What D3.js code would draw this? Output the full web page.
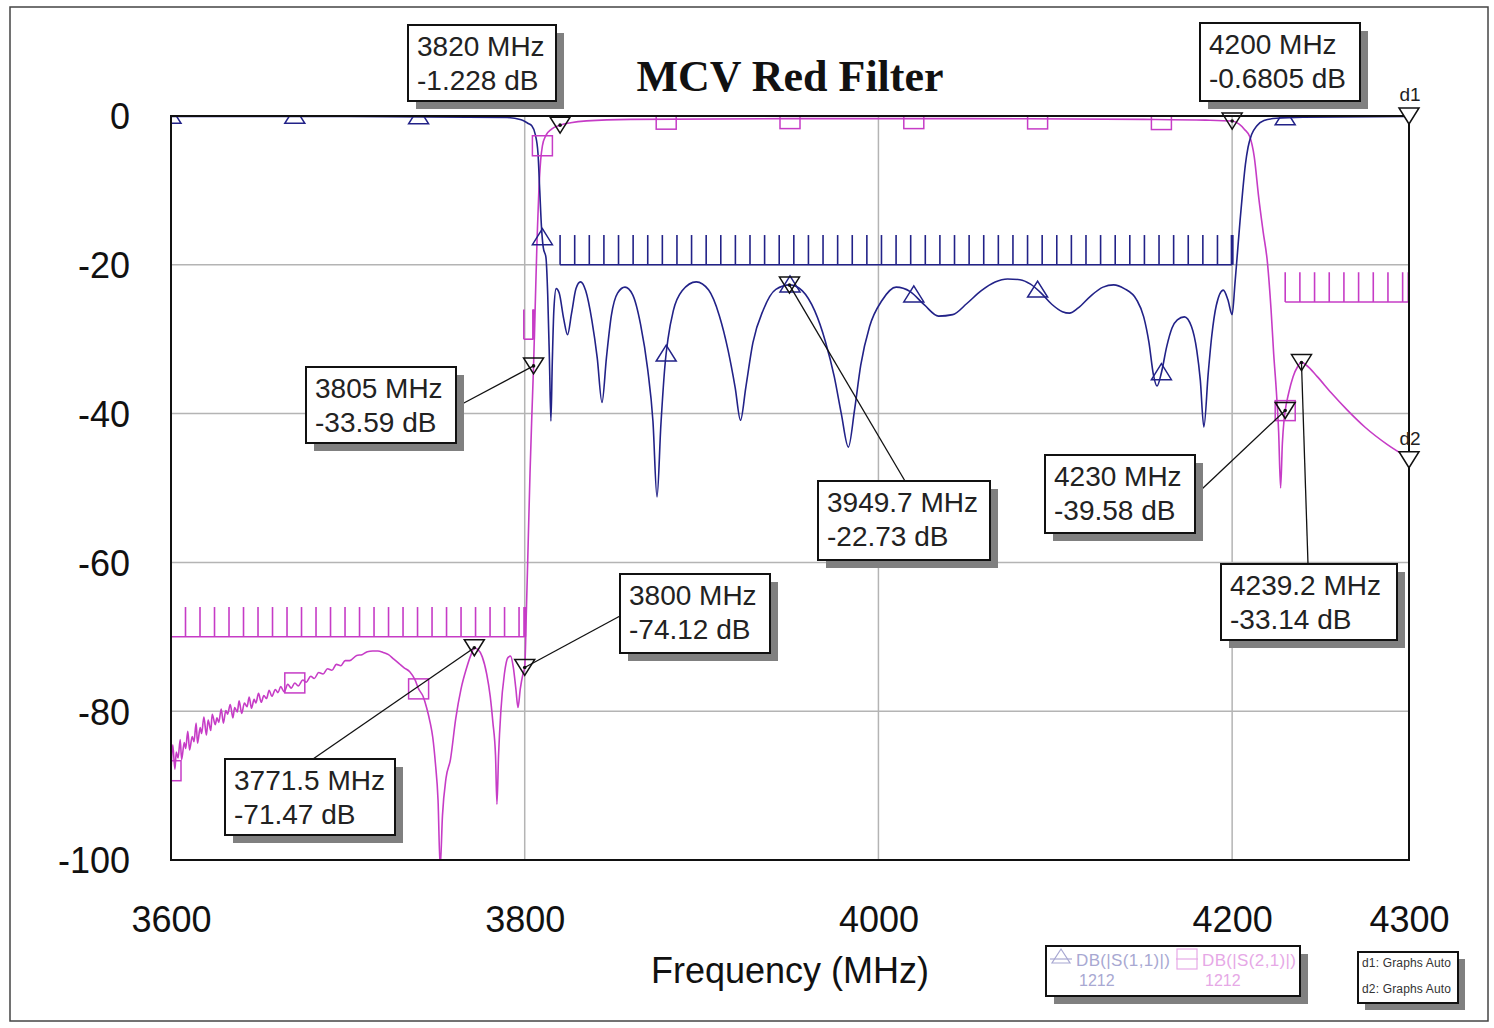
<!DOCTYPE html>
<html><head><meta charset="utf-8">
<script src="https://cdn.jsdelivr.net/npm/d3@7"></script>
<style>body{margin:0;background:#fff;} svg{display:block;}</style>
</head><body>
<svg id="c" width="1494" height="1028"></svg>
<script>
// ---------- DATA ----------
const chartTitle = "MCV Red Filter";
const xTicks = [3600, 3800, 4000, 4200, 4300];
const xGrid = [3800, 4000, 4200];
const yTicks = [0, -20, -40, -60, -80, -100];
const yGrid = [-20, -40, -60, -80];

// DB(|S(1,1)|)  [MHz, dB]
const s11 = [[3600,-0.05],[3700,-0.05],[3790,-0.2],[3798,-0.5],[3802,-1.0],[3804,-1.3],[3806,-2.5],[3807.5,-5],[3808.5,-10],[3809.5,-15],[3810.5,-17.7],[3812,-19],[3813,-24],[3814,-33],[3814.8,-41],[3815.6,-33],[3816.5,-26],[3817.8,-23.2],[3819.5,-23.8],[3822,-27.2],[3824.2,-29.4],[3826.5,-26.5],[3829,-23.2],[3831.5,-22.3],[3834.5,-23.5],[3838,-27.5],[3841,-32.5],[3843.7,-38.5],[3846.2,-32.5],[3849,-26.8],[3852.5,-23.8],[3856.7,-23],[3861,-24],[3865.5,-28],[3869.5,-34],[3872.5,-41],[3874.8,-51.2],[3877,-41.5],[3879.5,-33],[3881,-30],[3884,-26.2],[3889,-23.5],[3897,-22.3],[3904,-23.4],[3910,-26.8],[3915,-31.5],[3919,-36.5],[3922,-40.9],[3925,-36.5],[3929,-30.5],[3935,-26],[3942,-23.3],[3950,-22.7],[3957,-23.5],[3964,-26.2],[3970,-30.3],[3975,-35],[3979,-40],[3983,-44.5],[3986.5,-39.5],[3990,-33.5],[3995,-28.3],[4002,-24.8],[4010,-23],[4018,-23.6],[4026,-25.4],[4034,-26.9],[4042,-26.7],[4050,-25.2],[4058,-23.5],[4066,-22.3],[4073,-21.9],[4080,-22],[4086,-22.6],[4092,-23.8],[4098,-25.3],[4104,-26.3],[4108,-26.5],[4113,-25.8],[4120,-24.2],[4127,-23],[4133,-22.7],[4139,-23.2],[4146,-24.7],[4150,-27],[4153,-30.5],[4155.5,-34.8],[4157.5,-36.3],[4160,-34.5],[4163,-31],[4166,-28.5],[4169,-27.4],[4173,-27],[4177,-28.3],[4180,-31.5],[4182,-35.5],[4184,-41.8],[4186.5,-34.5],[4188.5,-29.5],[4191,-25.5],[4195,-23.4],[4197.6,-24.7],[4200,-26.7],[4201.6,-22.5],[4203,-18.4],[4204.5,-14],[4206,-10],[4207.5,-6.5],[4209,-4.2],[4211,-2.5],[4214,-1.3],[4218,-0.6],[4225,-0.3],[4240,-0.15],[4300,-0.05]];

// DB(|S(2,1)|)  [MHz, dB]
const s21 = [[3600,-88],[3601,-84.5],[3602.2,-87.8],[3603,-85.5],[3604,-86.3],[3605.2,-83.8],[3606,-86.5],[3607.5,-84.2],[3608.3,-85],[3609.5,-82.7],[3610.5,-85.2],[3612,-83.4],[3613,-84.1],[3614.2,-81.6],[3615,-84.3],[3616.5,-82.2],[3617.3,-83],[3618.6,-80.8],[3620,-83.2],[3621,-81.2],[3622.5,-82.6],[3623.3,-80.4],[3625,-81.8],[3626,-80.9],[3627,-81.5],[3628.4,-79.7],[3629.6,-81.6],[3631,-79.9],[3632,-80.4],[3633.5,-79.1],[3635,-80.9],[3636,-79.5],[3637.5,-80.1],[3638.5,-78.6],[3640,-80.3],[3641.5,-78.9],[3643,-79.4],[3644.2,-78.1],[3645.5,-79.6],[3647,-78.4],[3648,-78.9],[3649.5,-77.6],[3651,-78.8],[3652.5,-77.9],[3654,-78.3],[3655.5,-77.2],[3657,-78],[3659,-77.1],[3660.5,-77.5],[3662,-76.7],[3664,-77.4],[3666,-76.4],[3668,-76.9],[3670,-76.2],[3672,-76.6],[3674.5,-75.8],[3676.5,-76.1],[3679,-75.3],[3681,-75.6],[3683.5,-74.8],[3686,-75],[3688.5,-74.3],[3691,-74.5],[3693.5,-73.7],[3696,-73.9],[3698.5,-73.2],[3701,-73.2],[3705,-72.5],[3708,-72.4],[3711,-72],[3714,-71.9],[3717,-71.9],[3720,-72.1],[3723,-72.4],[3726,-73],[3729,-73.6],[3732,-74.2],[3735,-74.7],[3738,-75.8],[3740,-77],[3742.5,-78],[3744.5,-79.5],[3746.5,-81.5],[3748,-83.5],[3749.5,-87],[3751,-92],[3752.2,-101],[3753.5,-94],[3755.5,-89],[3758,-86.5],[3761,-81],[3764,-77],[3767,-74.3],[3769.5,-72.5],[3771.5,-71.5],[3773.5,-71.7],[3776,-72.7],[3778.5,-75],[3780.5,-78],[3782,-81.5],[3783.5,-86],[3784.3,-92.5],[3785.2,-86],[3786.5,-80],[3788.5,-75],[3790.5,-72.8],[3792,-72.6],[3793.5,-74],[3795,-77],[3796.2,-79.5],[3797.5,-77],[3799,-75],[3800,-74.1],[3801,-66],[3802,-57],[3803,-48],[3804,-40.5],[3805,-33.6],[3806,-25],[3807,-16.5],[3808,-10],[3809,-6],[3810,-4],[3812,-2.6],[3815,-1.8],[3820,-1.23],[3826,-0.9],[3835,-0.65],[3860,-0.45],[3950,-0.35],[4050,-0.35],[4150,-0.45],[4185,-0.55],[4200,-0.68],[4204,-1.1],[4207,-1.8],[4210,-2.8],[4212.5,-5.5],[4215,-10.9],[4217.5,-15.5],[4220,-19.8],[4222,-26],[4223.5,-32],[4225,-37],[4226.3,-42.5],[4227.4,-50],[4228.4,-44],[4229.3,-41],[4230,-39.6],[4232,-37.2],[4234.5,-35],[4237,-33.7],[4239.2,-33.1],[4242,-33.5],[4248,-35],[4256,-37.2],[4265,-39.5],[4275,-41.8],[4288,-44.2],[4300,-46]];

// legend-symbol positions along both traces
const symbolFreq = [3600,3670,3740,3810,3880,3950,4020,4090,4160,4230];

// limit masks
const maskTrace = ["s21","s11","s21","s21"];
const maskStart = [3600, 3820, 4230, 3799.5];
const maskEnd   = [3800, 4200, 4300, 3805];
const maskLevel = [-70, -20, -25, -30];
const maskStep  = [8.2, 8.26, 8.3, 5.5];

// data markers
const markerFreq = [3820, 4200, 3805, 3949.7, 4230, 4239.2, 3800, 3771.5];
const markerDb   = [-1.228, -0.6805, -33.59, -22.73, -39.58, -33.14, -74.12, -71.47];
const markerLine1 = ["3820 MHz","4200 MHz","3805 MHz","3949.7 MHz","4230 MHz","4239.2 MHz","3800 MHz","3771.5 MHz"];
const markerLine2 = ["-1.228 dB","-0.6805 dB","-33.59 dB","-22.73 dB","-39.58 dB","-33.14 dB","-74.12 dB","-71.47 dB"];
const endLabels = ["d1","d2"];
const endDb = [0, -46.2];
const legNames = ["DB(|S(1,1)|)","DB(|S(2,1)|)"];
const legSub = ["1212","1212"];
const legend2 = ["d1: Graphs Auto","d2: Graphs Auto"];

// ---------- LAYOUT ----------
const M = {l:171, r:1409, t:116, b:860};
const boxes = [
  {x:408,y:25,w:148,h:76, lead:null},
  {x:1200,y:23,w:160,h:78, lead:null},
  {x:306,y:367,w:150,h:76, lead:[462,404]},
  {x:818,y:481,w:172,h:79, lead:[905,481]},
  {x:1045,y:455,w:150,h:78, lead:[1202,489]},
  {x:1221,y:564,w:176,h:76, lead:[1308,564]},
  {x:620,y:574,w:150,h:79, lead:[620,616]},
  {x:225,y:759,w:170,h:76, lead:[313,759]}
];
const C11 = "#222288", C21 = "#c63cc6";

const svg = d3.select("#c");
const x = d3.scaleLinear().domain([3600,4300]).range([M.l,M.r]);
const y = d3.scaleLinear().domain([0,-100]).range([M.t,M.b]);

svg.append("rect").attr("x",10).attr("y",7).attr("width",1478).attr("height",1014)
  .attr("fill","none").attr("stroke","#444").attr("stroke-width",1.5);

svg.append("defs").append("clipPath").attr("id","plot")
  .append("rect").attr("x",M.l).attr("y",M.t).attr("width",M.r-M.l).attr("height",M.b-M.t);

// grid
svg.append("g").selectAll("line").data(xGrid).join("line")
  .attr("x1",d=>x(d)).attr("x2",d=>x(d)).attr("y1",M.t).attr("y2",M.b)
  .attr("stroke","#b4b4b4").attr("stroke-width",1.5);
svg.append("g").selectAll("line").data(yGrid).join("line")
  .attr("y1",d=>y(d)).attr("y2",d=>y(d)).attr("x1",M.l).attr("x2",M.r)
  .attr("stroke","#b4b4b4").attr("stroke-width",1.5);

// axes
const font = "Liberation Sans, Arial, sans-serif";
const ax = svg.append("g").attr("transform",`translate(0,${M.b})`)
  .call(d3.axisBottom(x).tickValues(xTicks).tickSize(0).tickPadding(46).tickFormat(d=>String(d)));
const ay = svg.append("g").attr("transform",`translate(${M.l},0)`)
  .call(d3.axisLeft(y).tickValues(yTicks).tickSize(0).tickPadding(41).tickFormat(d=>String(d)));
[ax,ay].forEach(a=>{a.select(".domain").remove();
  a.selectAll("text").attr("font-family",font).attr("font-size",36).attr("fill","#111");});
ay.selectAll("text").attr("dy","0.36em");

svg.append("text").attr("x",790).attr("y",983).attr("text-anchor","middle")
  .attr("font-family",font).attr("font-size",36).attr("fill","#111").text("Frequency (MHz)");
svg.append("text").attr("x",790).attr("y",91).attr("text-anchor","middle")
  .attr("font-family","Liberation Serif, Times New Roman, serif").attr("font-weight","bold")
  .attr("font-size",44).attr("fill","#111").text(chartTitle);

const line = d3.line().x(d=>x(d[0])).y(d=>y(d[1])).curve(d3.curveMonotoneX);
const interp = (ser,f)=>{ for(let i=1;i<ser.length;i++){ if(ser[i][0]>=f){const a=ser[i-1],b=ser[i];return a[1]+(b[1]-a[1])*(f-a[0])/(b[0]-a[0]);}} return ser[ser.length-1][1]; };

const gp = svg.append("g").attr("clip-path","url(#plot)");

// masks
maskStart.forEach((s,i)=>{
  const col = maskTrace[i]==="s11"?C11:C21;
  const e = maskEnd[i], lv = maskLevel[i];
  const g = gp.append("g").attr("stroke",col).attr("stroke-width",1.6);
  g.append("line").attr("x1",x(s)).attr("x2",x(e)).attr("y1",y(lv)).attr("y2",y(lv));
  const ticks = [];
  for(let f=s; f<e-0.5; f+=maskStep[i]) ticks.push(f);
  ticks.push(e);
  g.selectAll("line.t").data(ticks).join("line").attr("class","t")
    .attr("x1",d=>x(d)).attr("x2",d=>x(d)).attr("y1",y(lv)).attr("y2",y(lv+4));
  g.append("line").attr("x1",x(e)).attr("x2",x(e)).attr("y1",y(lv)).attr("y2",y(lv+4)).attr("stroke-width",3);
});

gp.append("path").datum(s21).attr("d",line).attr("fill","none").attr("stroke",C21).attr("stroke-width",1.6);
gp.append("path").datum(s11).attr("d",line).attr("fill","none").attr("stroke",C11).attr("stroke-width",1.6);

// trace symbols
gp.append("g").selectAll("path").data(symbolFreq).join("path")
  .attr("d",f=>{const cx=x(f),cy=y(interp(s11,f));return `M${cx},${cy-9}L${cx+10},${cy+7}L${cx-10},${cy+7}Z`;})
  .attr("fill","none").attr("stroke",C11).attr("stroke-width",1.5);
gp.append("g").selectAll("rect").data(symbolFreq).join("rect")
  .attr("x",f=>x(f)-10).attr("y",f=>y(interp(s21,f))-10).attr("width",20).attr("height",20)
  .attr("fill","none").attr("stroke",C21).attr("stroke-width",1.5);

// plot frame
svg.append("rect").attr("x",M.l).attr("y",M.t).attr("width",M.r-M.l).attr("height",M.b-M.t)
  .attr("fill","none").attr("stroke","#111").attr("stroke-width",2);

// markers
const tri = (cx,cy)=>`M${cx-10},${cy-8}L${cx+10},${cy-8}L${cx},${cy+8}Z`;
markerFreq.forEach((f,i)=>{
  const mx=x(f), my=y(markerDb[i]), b=boxes[i];
  if(b.lead) svg.append("line").attr("x1",b.lead[0]).attr("y1",b.lead[1]).attr("x2",mx).attr("y2",my)
    .attr("stroke","#111").attr("stroke-width",1.3);
  svg.append("path").attr("d",tri(mx,my)).attr("fill","none").attr("stroke","#111").attr("stroke-width",1.5);
  svg.append("circle").attr("cx",mx).attr("cy",my).attr("r",1.8).attr("fill","#111");
  svg.append("rect").attr("x",b.x+8).attr("y",b.y+8).attr("width",b.w).attr("height",b.h).attr("fill","#808080");
  svg.append("rect").attr("x",b.x).attr("y",b.y).attr("width",b.w).attr("height",b.h)
    .attr("fill","#fff").attr("stroke","#111").attr("stroke-width",2);
  [markerLine1[i],markerLine2[i]].forEach((t,k)=>svg.append("text").attr("x",b.x+9).attr("y",b.y+31+k*34)
    .attr("font-family",font).attr("font-size",28).attr("fill","#222").text(t));
});
endLabels.forEach((t,i)=>{
  const mx=x(4300), my=y(endDb[i]);
  svg.append("path").attr("d",tri(mx,my)).attr("fill","#fff").attr("stroke","#111").attr("stroke-width",1.5);
  svg.append("text").attr("x",mx+1).attr("y",my-15).attr("text-anchor","middle")
    .attr("font-family",font).attr("font-size",19).attr("fill","#222").text(t);
});

// legend 1
const L1 = {x:1046,y:946,w:254,h:50};
svg.append("rect").attr("x",L1.x+8).attr("y",L1.y+8).attr("width",L1.w).attr("height",L1.h).attr("fill","#808080");
svg.append("rect").attr("x",L1.x).attr("y",L1.y).attr("width",L1.w).attr("height",L1.h).attr("fill","#fff").attr("stroke","#111").attr("stroke-width",2);
const legCol = ["#a8a8d2","#e6a8e6"];
legNames.forEach((n,i)=>{
  const lx = L1.x + 4 + i*126;
  svg.append("line").attr("x1",lx).attr("x2",lx+22).attr("y1",L1.y+13).attr("y2",L1.y+13).attr("stroke",legCol[i]).attr("stroke-width",1.2);
  if(i===0) svg.append("path").attr("d",`M${lx+11},${L1.y+3}L${lx+20},${L1.y+17}L${lx+2},${L1.y+17}Z`).attr("fill","none").attr("stroke",legCol[i]).attr("stroke-width",1.2);
  else svg.append("rect").attr("x",lx+1).attr("y",L1.y+3).attr("width",20).attr("height",20).attr("fill","none").attr("stroke",legCol[i]).attr("stroke-width",1.2);
  svg.append("text").attr("x",lx+26).attr("y",L1.y+20).attr("font-family",font).attr("font-size",17).attr("textLength",94).attr("fill",legCol[i]).text(n);
  svg.append("text").attr("x",lx+29).attr("y",L1.y+40).attr("font-family",font).attr("font-size",16).attr("fill",legCol[i]).text(legSub[i]);
});
// legend 2
const L2 = {x:1358,y:952,w:100,h:51};
svg.append("rect").attr("x",L2.x+7).attr("y",L2.y+7).attr("width",L2.w).attr("height",L2.h).attr("fill","#808080");
svg.append("rect").attr("x",L2.x).attr("y",L2.y).attr("width",L2.w).attr("height",L2.h).attr("fill","#fff").attr("stroke","#111").attr("stroke-width",2);
legend2.forEach((t,i)=>svg.append("text").attr("x",L2.x+4).attr("y",L2.y+15+i*26)
  .attr("font-family",font).attr("font-size",12).attr("textLength",89).attr("fill","#333").text(t));
</script>
</body></html>
